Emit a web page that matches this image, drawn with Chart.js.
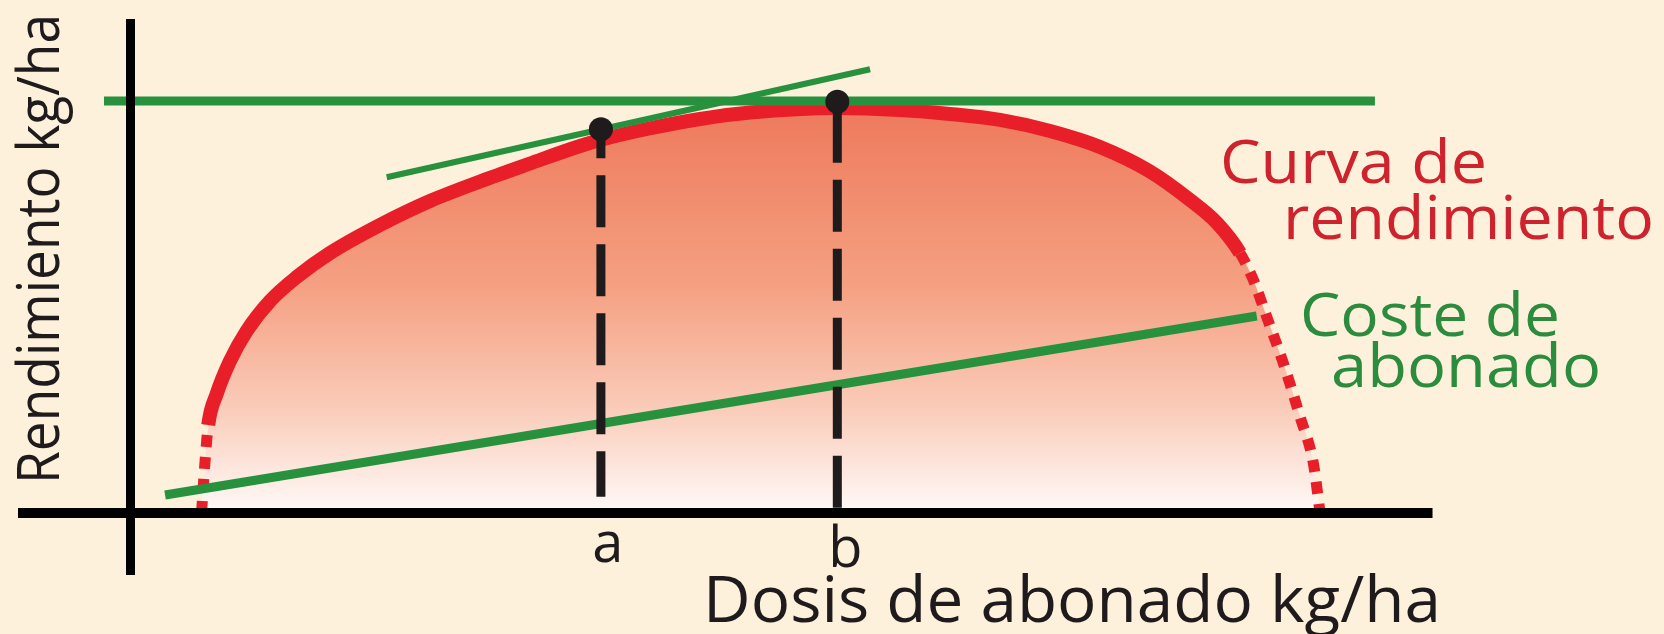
<!DOCTYPE html>
<html><head><meta charset="utf-8">
<script src="https://cdn.jsdelivr.net/npm/chart.js@4.4.1/dist/chart.umd.min.js"></script>
<style>html,body{margin:0;padding:0;background:#fdf1dc;overflow:hidden}canvas{display:block}</style>
</head><body>
<canvas id="c" width="1664" height="634"></canvas>
<script>
// ---- data (dose in arbitrary units, yield in % of maximum) ----
const doseAxisTitle = "Dosis de abonado kg/ha";
const yieldAxisTitle = "Rendimiento kg/ha";
const curveLabel = ["Curva de", "rendimiento"];
const costLabel = ["Coste de", "abonado"];

const curveDose  = [5.92, 6.17, 6.48, 7.18, 8.29, 9.68, 11.63, 13.85, 16.63, 20.79, 24.96, 29.13, 33.29, 37.46, 39.13, 43.02, 47.46, 51.63, 58.88, 64.13, 68.29, 72.46, 76.63, 80.79, 84.96, 88.29, 90.54, 92.46, 93.57, 94.68, 96.07, 97.46, 98.57, 99.13];
const curveYield = [0, 10.9, 21.34, 28.86, 36.87, 44.15, 51.44, 57.26, 63.09, 69.89, 75.71, 80.45, 84.81, 89.06, 90.52, 93.19, 95.62, 97.19, 98.29, 97.8, 96.83, 95.38, 92.7, 88.82, 82.87, 75.96, 70.37, 63.09, 56.54, 47.63, 36.31, 23.35, 12.04, 0];
const firstMeasuredIndex = 2;   // points before are extrapolated (dotted)
const lastMeasuredIndex = 27;   // points after are extrapolated (dotted)

const costDose  = [2.88, 93.85];
const costYield = [4.35, 47.8];

const maxYieldDose  = [-2.21, 103.7];
const maxYieldValue = [100, 100];

const tangentDose  = [21.35, 61.63];
const tangentYield = [81.47, 107.68];

const markNames = ["a", "b"];
const markDose  = [39.2, 58.9];
const markYield = [93.1, 99.8];
const markDropTo = [3.9, 0];

const xAxisDose  = [-9.375, 108.5];
const yAxisYield = [-15.1, 119.9];

// ---- helpers ----
const pts = (xs, ys) => xs.map((x, i) => ({x, y: ys[i]}));
const RED = 'rgb(232,30,40)';
const GREEN = 'rgb(40,145,62)';
const BLACK = '#1f1b1c';

const bgPlugin = {
  id: 'bg',
  beforeDraw(chart) {
    const c = chart.ctx; c.save(); c.fillStyle = '#fdf1dc';
    c.fillRect(0, 0, chart.width, chart.height); c.restore();
  }
};

function fitText(c, text, x, y, size, width, color, rotate) {
  c.save();
  c.font = size + 'px "Open Sans"';
  c.fillStyle = color; c.textBaseline = 'alphabetic'; c.textAlign = 'left';
  const w = c.measureText(text).width;
  c.translate(x, y);
  if (rotate) c.rotate(-Math.PI / 2);
  c.scale(width / w, 1);
  c.fillText(text, 0, 0);
  c.restore();
}
function centerText(c, text, x, y, size, color) {
  c.save();
  c.font = size + 'px "Open Sans"';
  c.fillStyle = color; c.textBaseline = 'alphabetic'; c.textAlign = 'center';
  c.fillText(text, x, y);
  c.restore();
}

const textPlugin = {
  id: 'texts',
  afterDraw(chart) {
    const c = chart.ctx, sx = chart.scales.x;
    fitText(c, yieldAxisTitle, 59, 484, 58, 470, BLACK, true);
    fitText(c, doseAxisTitle, 703, 622, 64, 738, BLACK);
    fitText(c, curveLabel[0], 1220, 183, 60, 267, 'rgb(206,34,44)');
    fitText(c, curveLabel[1], 1283, 239, 60, 371, 'rgb(206,34,44)');
    fitText(c, costLabel[0], 1300, 336, 60, 260, 'rgb(44,140,62)');
    fitText(c, costLabel[1], 1331, 387, 60, 270, 'rgb(44,140,62)');
    centerText(c, markNames[0], sx.getPixelForValue(markDose[0]) + 7, 562, 56, BLACK);
    centerText(c, markNames[1], sx.getPixelForValue(markDose[1]) + 8, 567, 56, BLACK);
  }
};

const extrap = s => s.p0DataIndex < firstMeasuredIndex || s.p0DataIndex >= lastMeasuredIndex;

new Chart(document.getElementById('c'), {
  type: 'scatter',
  data: {
    datasets: [
      { // marks a, b
        data: pts(markDose, markYield), showLine: false, order: 0,
        pointRadius: 12, pointBackgroundColor: BLACK, pointBorderWidth: 0
      },
      { // x axis
        data: pts(xAxisDose, [0, 0]), showLine: true, order: 1,
        borderColor: '#000', borderWidth: 10, pointRadius: 0, borderCapStyle: 'butt'
      },
      { // y axis
        data: pts([0, 0], yAxisYield), showLine: true, order: 1,
        borderColor: '#000', borderWidth: 9, pointRadius: 0, borderCapStyle: 'butt'
      },
      { // drop line a
        data: pts([markDose[0], markDose[0]], [markYield[0], markDropTo[0]]), showLine: true, order: 2,
        borderColor: BLACK, borderWidth: 9, borderDash: [52, 17], borderDashOffset: 23,
        pointRadius: 0, borderCapStyle: 'butt'
      },
      { // drop line b
        data: pts([markDose[1], markDose[1]], [markYield[1], markDropTo[1]]), showLine: true, order: 2,
        borderColor: BLACK, borderWidth: 9, borderDash: [52, 17], borderDashOffset: 60,
        pointRadius: 0, borderCapStyle: 'butt'
      },
      { // tangent at a
        data: pts(tangentDose, tangentYield), showLine: true, order: 3,
        borderColor: GREEN, borderWidth: 6, pointRadius: 0, borderCapStyle: 'butt'
      },
      { // maximum yield line
        data: pts(maxYieldDose, maxYieldValue), showLine: true, order: 4,
        borderColor: GREEN, borderWidth: 9, pointRadius: 0, borderCapStyle: 'butt'
      },
      { // fertiliser cost
        data: pts(costDose, costYield), showLine: true, order: 5,
        borderColor: GREEN, borderWidth: 9, pointRadius: 0, borderCapStyle: 'butt'
      },
      { // yield curve line
        data: pts(curveDose, curveYield), showLine: true, order: 6,
        borderColor: RED, borderWidth: 14, pointRadius: 0, cubicInterpolationMode: 'monotone',
        borderCapStyle: 'butt', fill: false,
        segment: {
          borderDash: s => extrap(s) ? [12, 10] : undefined,
          borderWidth: s => extrap(s) ? 11 : undefined
        }
      },
      { // yield curve area
        data: pts(curveDose, curveYield), showLine: true, order: 7,
        borderWidth: 0, borderColor: 'rgba(0,0,0,0)', pointRadius: 0, cubicInterpolationMode: 'monotone',
        fill: 'origin',
        backgroundColor: (ctx) => {
          const ch = ctx.chart;
          if (!ch.chartArea) return 'rgba(240,130,100,0.6)';
          const top = ch.scales.y.getPixelForValue(100);
          const bot = ch.scales.y.getPixelForValue(0);
          const g = ch.ctx.createLinearGradient(0, top, 0, bot);
          g.addColorStop(0, 'rgb(238,120,90)');
          g.addColorStop(0.45, 'rgb(245,160,130)');
          g.addColorStop(0.75, 'rgb(250,204,186)');
          g.addColorStop(1, 'rgb(255,250,248)');
          return g;
        }
      }
    ]
  },
  options: {
    responsive: false, animation: false, devicePixelRatio: 1,
    layout: { padding: 0, autoPadding: false },
    scales: {
      x: { type: 'linear', min: -10.875, max: 127.79, display: false },
      y: { type: 'linear', min: -29.4, max: 124.5, display: false }
    },
    plugins: {
      legend: { display: false }, tooltip: { enabled: false },
      filler: { drawTime: 'beforeDatasetsDraw' }
    }
  },
  plugins: [bgPlugin, textPlugin]
});
</script>
</body></html>
